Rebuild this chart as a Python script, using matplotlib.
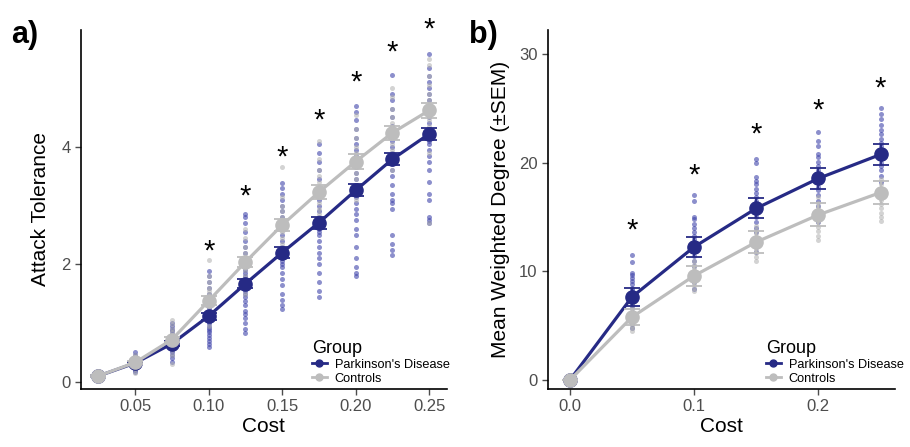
import matplotlib
matplotlib.use("Agg")
import matplotlib.pyplot as plt
from matplotlib.lines import Line2D

plt.rcParams['font.family'] = ['Liberation Sans', 'DejaVu Sans']

PD_COL = "#262a85"
PD_PT = "#3f44aa"
CT_COL = "#bdbdbd"
CT_PT = "#b0b0b0"

# ---- panel a: attack tolerance ----
cost_a = [0.025, 0.05, 0.075, 0.10, 0.125, 0.15, 0.175, 0.20, 0.225, 0.25]
pd_mean_a = [0.10, 0.32, 0.65, 1.12, 1.67, 2.20, 2.71, 3.26, 3.79, 4.22]
pd_sem_a = [0.01, 0.02, 0.04, 0.06, 0.08, 0.09, 0.10, 0.10, 0.10, 0.10]
ct_mean_a = [0.10, 0.33, 0.72, 1.38, 2.04, 2.67, 3.23, 3.75, 4.24, 4.62]
ct_sem_a = [0.01, 0.02, 0.04, 0.08, 0.09, 0.11, 0.12, 0.12, 0.12, 0.13]

pd_pts_a = [
    [0.05, 0.07, 0.08, 0.09, 0.1, 0.1, 0.11, 0.12, 0.13, 0.14, 0.15],
    [0.16, 0.2, 0.22, 0.25, 0.27, 0.29, 0.3, 0.31, 0.33, 0.35, 0.37, 0.4, 0.43, 0.46, 0.5],
    [0.33, 0.4, 0.45, 0.5, 0.55, 0.58, 0.6, 0.62, 0.65, 0.67, 0.7, 0.72, 0.75, 0.78, 0.82, 0.86, 0.9, 0.95, 1.0],
    [0.6, 0.65, 0.7, 0.75, 0.8, 0.85, 0.88, 0.92, 0.95, 1.0, 1.02, 1.05, 1.08, 1.1, 1.15, 1.18, 1.2,
     1.25, 1.3, 1.35, 1.42, 1.5, 1.6, 1.7, 1.8, 1.88],
    [0.83, 0.9, 1.0, 1.08, 1.15, 1.2, 1.3, 1.38, 1.45, 1.5, 1.55, 1.6, 1.65, 1.7, 1.75, 1.8, 1.85, 1.9,
     2.0, 2.1, 2.2, 2.3, 2.4, 2.55, 2.7, 2.8, 2.85],
    [1.24, 1.3, 1.4, 1.5, 1.65, 1.75, 1.85, 1.95, 2.0, 2.05, 2.1, 2.15, 2.2, 2.25, 2.3, 2.4, 2.5, 2.6,
     2.7, 2.8, 2.9, 3.0, 3.1, 3.2, 3.3, 3.38],
    [1.45, 1.55, 1.7, 1.85, 2.0, 2.1, 2.2, 2.3, 2.4, 2.5, 2.55, 2.6, 2.65, 2.7, 2.75, 2.8, 2.9, 3.0,
     3.1, 3.2, 3.3, 3.45, 3.6, 3.75, 3.9, 4.05],
    [1.8, 1.85, 1.95, 2.1, 2.3, 2.5, 2.6, 2.75, 2.85, 2.95, 3.05, 3.15, 3.2, 3.3, 3.35, 3.45, 3.55,
     3.65, 3.75, 3.85, 3.95, 4.05, 4.15, 4.3, 4.45, 4.6, 4.7],
    [2.16, 2.25, 2.35, 2.5, 2.95, 3.05, 3.1, 3.2, 3.35, 3.5, 3.6, 3.7, 3.75, 3.8, 3.85, 3.9, 4.0, 4.1,
     4.2, 4.35, 4.5, 4.65, 4.8, 4.9, 5.22],
    [2.7, 2.75, 2.8, 3.1, 3.2, 3.4, 3.6, 3.75, 3.85, 3.95, 4.05, 4.1, 4.15, 4.2, 4.3, 4.4, 4.5, 4.6,
     4.7, 4.8, 4.9, 5.0, 5.1, 5.2, 5.35, 5.58],
]
ct_pts_a = [
    [0.06, 0.08, 0.1, 0.11, 0.12, 0.14],
    [0.15, 0.22, 0.28, 0.3, 0.33, 0.36, 0.4, 0.45],
    [0.3, 0.45, 0.55, 0.62, 0.68, 0.72, 0.75, 0.8, 0.85, 0.9, 0.98, 1.05],
    [0.95, 1.1, 1.2, 1.3, 1.35, 1.4, 1.45, 1.5, 1.55, 1.6, 1.7, 1.8, 2.07],
    [1.5, 1.7, 1.8, 1.9, 1.95, 2.0, 2.05, 2.1, 2.2, 2.3, 2.45, 2.6],
    [2.2, 2.35, 2.45, 2.55, 2.6, 2.65, 2.7, 2.75, 2.8, 2.9, 3.0, 3.15, 3.65],
    [2.7, 2.85, 2.95, 3.05, 3.15, 3.2, 3.25, 3.3, 3.4, 3.5, 3.6, 3.8, 4.1],
    [3.1, 3.3, 3.45, 3.55, 3.65, 3.7, 3.75, 3.8, 3.9, 4.0, 4.15, 4.3, 4.55],
    [3.6, 3.8, 3.95, 4.05, 4.15, 4.2, 4.25, 4.3, 4.4, 4.5, 4.65, 4.85, 5.0],
    [2.7, 3.9, 4.2, 4.35, 4.45, 4.55, 4.6, 4.65, 4.7, 4.8, 4.9, 5.05, 5.2, 5.4, 5.5],
]
star_x_a = [0.10, 0.125, 0.15, 0.175, 0.20, 0.225, 0.25]
star_y_a = [2.22, 3.15, 3.82, 4.45, 5.09, 5.61, 5.99]

# ---- panel b: mean weighted degree ----
cost_b = [0.0, 0.05, 0.10, 0.15, 0.20, 0.25]
pd_mean_b = [0.0, 7.65, 12.25, 15.8, 18.55, 20.75]
pd_sem_b = [0.0, 0.8, 0.9, 0.92, 0.93, 0.95]
ct_mean_b = [0.0, 5.8, 9.6, 12.7, 15.2, 17.25]
ct_sem_b = [0.0, 0.72, 0.9, 1.0, 1.05, 1.07]

pd_pts_b = [
    [0.0, 0.0, 0.0],
    [4.8, 5.2, 5.8, 6.2, 6.6, 6.9, 7.1, 7.3, 7.5, 7.7, 7.9, 8.1, 8.3, 8.5, 8.8, 9.1, 9.4, 9.7, 9.9, 10.9, 11.5],
    [8.4, 9.0, 9.8, 10.5, 11.0, 11.4, 11.8, 12.0, 12.2, 12.4, 12.7, 13.0, 13.3, 13.6, 14.0, 14.4, 14.8,
     15.0, 16.5, 17.0],
    [11.8, 12.2, 13.0, 13.6, 14.0, 14.5, 15.0, 15.3, 15.6, 15.9, 16.2, 16.5, 16.8, 17.2, 17.6, 18.0,
     18.3, 18.7, 20.0, 20.3],
    [14.5, 15.0, 15.5, 16.0, 16.5, 17.0, 17.5, 17.8, 18.1, 18.4, 18.7, 19.0, 19.3, 19.7, 20.1, 20.5,
     20.8, 21.5, 22.0, 22.8],
    [17.6, 18.2, 18.8, 19.3, 19.7, 20.0, 20.3, 20.6, 20.9, 21.2, 21.5, 21.8, 22.2, 22.6, 23.0, 23.5,
     24.0, 24.5, 25.0],
]
ct_pts_b = [
    [0.0, 0.0],
    [4.5, 4.8, 5.0, 5.3, 5.5, 5.7, 5.9, 6.1, 6.4, 6.7, 7.0],
    [8.2, 8.5, 8.8, 9.1, 9.4, 9.6, 9.8, 10.0, 10.3, 10.6, 11.0],
    [11.0, 11.3, 11.7, 12.0, 12.3, 12.6, 12.9, 13.2, 13.5, 13.8, 14.2],
    [12.9, 13.3, 13.7, 14.1, 14.5, 14.9, 15.2, 15.5, 15.9, 16.3, 16.8],
    [14.6, 15.0, 15.4, 15.8, 16.2, 16.6, 17.0, 17.3, 17.6, 18.0, 18.5],
]
star_x_b = [0.05, 0.10, 0.15, 0.20, 0.25]
star_y_b = [13.8, 18.8, 22.6, 24.8, 26.8]

group_names = ["Parkinson's Disease", "Controls"]


def draw_panel(ax, cost, pd_mean, pd_sem, ct_mean, ct_sem, pd_pts, ct_pts, star_x, star_y, leg_x):
    for x, vals in zip(cost, pd_pts):
        ax.scatter([x] * len(vals), vals, s=13, color=PD_PT, alpha=0.6, lw=0, zorder=2)
    for x, vals in zip(cost, ct_pts):
        ax.scatter([x] * len(vals), vals, s=13, color=CT_PT, alpha=0.55, lw=0, zorder=2)
    ax.errorbar(cost, pd_mean, yerr=pd_sem, color=PD_COL, lw=2.3, marker='o', ms=9.5,
                capsize=6, capthick=1.3, elinewidth=1.3, zorder=3)
    ax.errorbar(cost, ct_mean, yerr=ct_sem, color=CT_COL, lw=2.3, marker='o', ms=9.5,
                capsize=6, capthick=1.3, elinewidth=1.3, zorder=4)
    for x, y in zip(star_x, star_y):
        ax.text(x, y, "*", ha='center', va='center', fontsize=21, color='black', clip_on=False)
    for s in ['top', 'right']:
        ax.spines[s].set_visible(False)
    for s in ['left', 'bottom']:
        ax.spines[s].set_linewidth(1.2)
    ax.tick_params(colors='#4d4d4d', labelsize=12, length=4, width=1)
    handles = [Line2D([], [], color=PD_COL, marker='o', ms=5, lw=2),
               Line2D([], [], color=CT_COL, marker='o', ms=5, lw=2)]
    ax.legend(handles, group_names, title="Group", loc='lower left',
              bbox_to_anchor=(leg_x, -0.01), frameon=False, fontsize=9.2,
              title_fontsize=13, handlelength=1.2, handletextpad=0.6, labelspacing=0.15,
              alignment='left', borderaxespad=0.2)


fig = plt.figure(figsize=(9.1, 4.47), dpi=100)
ax1 = fig.add_axes([0.089, 0.130, 0.402, 0.803])
ax2 = fig.add_axes([0.602, 0.130, 0.382, 0.803])

draw_panel(ax1, cost_a, pd_mean_a, pd_sem_a, ct_mean_a, ct_sem_a, pd_pts_a, ct_pts_a,
           star_x_a, star_y_a, 0.61)
ax1.set_xlim(0.0131, 0.262)
ax1.set_ylim(-0.12, 5.99)
ax1.set_xticks([0.05, 0.10, 0.15, 0.20, 0.25])
ax1.set_xticklabels(["0.05", "0.10", "0.15", "0.20", "0.25"])
ax1.set_yticks([0, 2, 4])
ax1.set_xlabel("Cost", fontsize=15, labelpad=2)
ax1.set_ylabel("Attack Tolerance", fontsize=15, labelpad=8)

draw_panel(ax2, cost_b, pd_mean_b, pd_sem_b, ct_mean_b, ct_sem_b, pd_pts_b, ct_pts_b,
           star_x_b, star_y_b, 0.605)
ax2.set_xlim(-0.0177, 0.262)
ax2.set_ylim(-0.8, 32.2)
ax2.set_xticks([0.0, 0.1, 0.2])
ax2.set_xticklabels(["0.0", "0.1", "0.2"])
ax2.set_yticks([0, 10, 20, 30])
ax2.set_xlabel("Cost", fontsize=15, labelpad=2)
ax2.set_ylabel("Mean Weighted Degree (±SEM)", fontsize=15, labelpad=6)

fig.text(0.012, 0.955, "a)", fontsize=22, fontweight='bold', va='top')
fig.text(0.515, 0.955, "b)", fontsize=22, fontweight='bold', va='top')

fig.savefig("out.png", dpi=100)
